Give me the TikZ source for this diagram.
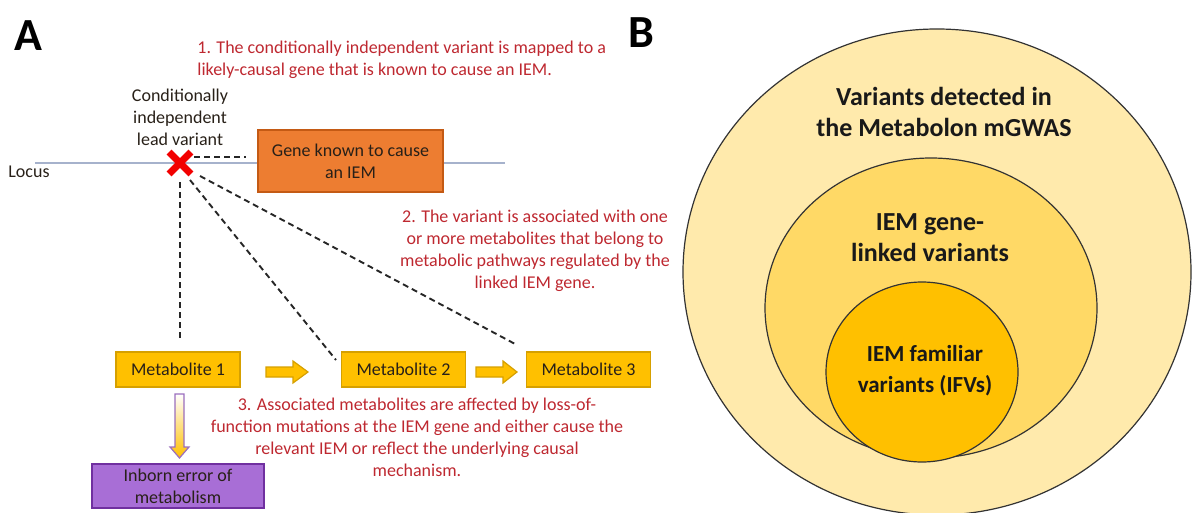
\documentclass[tikz,border=0pt]{standalone}
\usepackage{fontspec}
\setmainfont{Carlito}
\usetikzlibrary{shapes.misc}
\definecolor{redtxt}{RGB}{190,40,48}
\definecolor{darktxt}{RGB}{40,32,24}
\definecolor{genefill}{RGB}{237,125,49}
\definecolor{geneborder}{RGB}{196,90,20}
\definecolor{metfill}{RGB}{255,192,0}
\definecolor{metborder}{RGB}{214,160,0}
\definecolor{iemfill}{RGB}{168,110,214}
\definecolor{iemborder}{RGB}{112,48,160}
\definecolor{locusline}{RGB}{166,178,204}
\definecolor{outerfill}{RGB}{255,234,172}
\definecolor{midfill}{RGB}{255,217,102}
\definecolor{innerfill}{RGB}{255,192,0}
\begin{document}
\begin{tikzpicture}[x=0.5pt,y=-0.5pt,
  redtext/.style={text=redtxt, font=\fontsize{9}{11}\selectfont, inner sep=0pt},
  plaintext/.style={text=darktxt, font=\fontsize{9}{11}\selectfont, inner sep=0pt, align=center},
  metab/.style={draw=metborder, fill=metfill, line width=0.6pt, minimum width=62pt, minimum height=17.5pt, inner sep=0pt, text=darktxt, font=\fontsize{9}{11}\selectfont},
  dashline/.style={dash pattern=on 3pt off 2pt, line width=0.95pt, black!85},
  blockarrow/.style={draw=metborder, fill=metfill, line width=0.6pt, line join=miter},
  circ/.style={draw=black!80, line width=0.6pt},
  circtext/.style={text=black!90, font=\bfseries\fontsize{13}{15.5}\selectfont, align=center, inner sep=0pt},
  panel/.style={font=\bfseries\fontsize{23}{26}\selectfont, inner sep=0pt}
]
\useasboundingbox (0,0) rectangle (1193,513);

% Panel labels
\node[panel] (A) at (28,36) {A};
\node[panel] (B) at (641,33) {B};

% Locus line and gene
\draw[locusline, line width=0.6pt] (35,163) -- (505,163);
\node[plaintext, anchor=west] (locus) at (8,172) {Locus};
\node[draw=geneborder, fill=genefill, line width=0.6pt, minimum width=92.5pt, minimum height=31pt, inner sep=0pt, text=darktxt, font=\fontsize{9}{11}\selectfont, align=center] (gene) at (350.5,161) {Gene known to cause\\an IEM};

% Lead variant
\node[plaintext] (lead) at (180,117) {Conditionally\\independent\\lead variant};
\node[cross out, draw=red!95!black, line width=3.4pt, minimum size=7.5pt, inner sep=0pt] (var) at (180,163) {};

% Step texts
\node[redtext, anchor=west, align=left] (t1) at (197,60) {1. The conditionally independent variant is mapped to a\\likely-causal gene that is known to cause an IEM.};
\node[redtext, align=center] (t2) at (535,251) {2. The variant is associated with one\\or more metabolites that belong to\\metabolic pathways regulated by the\\linked IEM gene.};
\node[redtext, align=center] (t3) at (417,437) {3. Associated metabolites are affected by loss-of-\\function mutations at the IEM gene and either cause the\\relevant IEM or reflect the underlying causal\\mechanism.};

% Metabolites
\node[metab] (m1) at (178,369.5) {Metabolite 1};
\node[metab] (m2) at (403.5,369.5) {Metabolite 2};
\node[metab] (m3) at (588.5,369.5) {Metabolite 3};

% IEM box
\node[draw=iemborder, fill=iemfill, line width=0.6pt, minimum width=86pt, minimum height=22pt, inner sep=0pt, text=darktxt, font=\fontsize{9}{11}\selectfont, align=center] (iem) at (178,486) {Inborn error of\\metabolism};

% Dashed connectors
\coordinate (h1) at (194,157);
\coordinate (h2) at (246,157);
\coordinate (s1) at (180,182);
\coordinate (s2) at (190,180);
\coordinate (s3) at (200,176);
\coordinate (e1) at (180,340);
\coordinate (e2) at (336,360);
\coordinate (e3) at (517,345);
\draw[dashline] (h1) -- (h2);
\draw[dashline] (s1) -- (e1);
\draw[dashline] (s2) -- (e2);
\draw[dashline] (s3) -- (e3);

% Block arrows between metabolites
\draw[blockarrow] (266,367) -- (293,367) -- (293,361) -- (308,372) -- (293,383) -- (293,377) -- (266,377) -- cycle;
\draw[blockarrow] (476,367) -- (503,367) -- (503,361) -- (517,372) -- (503,383) -- (503,377) -- (476,377) -- cycle;

% Down arrow from Metabolite 1 to IEM
\shade[top color=white, bottom color=metfill, draw=iemborder!70, line width=0.6pt, line join=miter]
  (175,394) -- (184,394) -- (184,447) -- (189,447) -- (179.5,458) -- (170,447) -- (175,447) -- cycle;

% Panel B: nested sets
\draw[circ, fill=outerfill] (937,272) ellipse [x radius=254, y radius=243];
\draw[circ, fill=midfill] (931,308) ellipse [x radius=166, y radius=150];
\draw[circ, fill=innerfill] (922,372) ellipse [x radius=96, y radius=90];
\node[circtext] (outertxt) at (944,112) {Variants detected in\\the Metabolon mGWAS};
\node[circtext] (midtxt) at (930,238) {IEM gene-\\linked variants};
\node[circtext, font=\bfseries\fontsize{11.5}{15.5}\selectfont] (innertxt) at (925,371) {IEM familiar\\variants (IFVs)};
\end{tikzpicture}
\end{document}
